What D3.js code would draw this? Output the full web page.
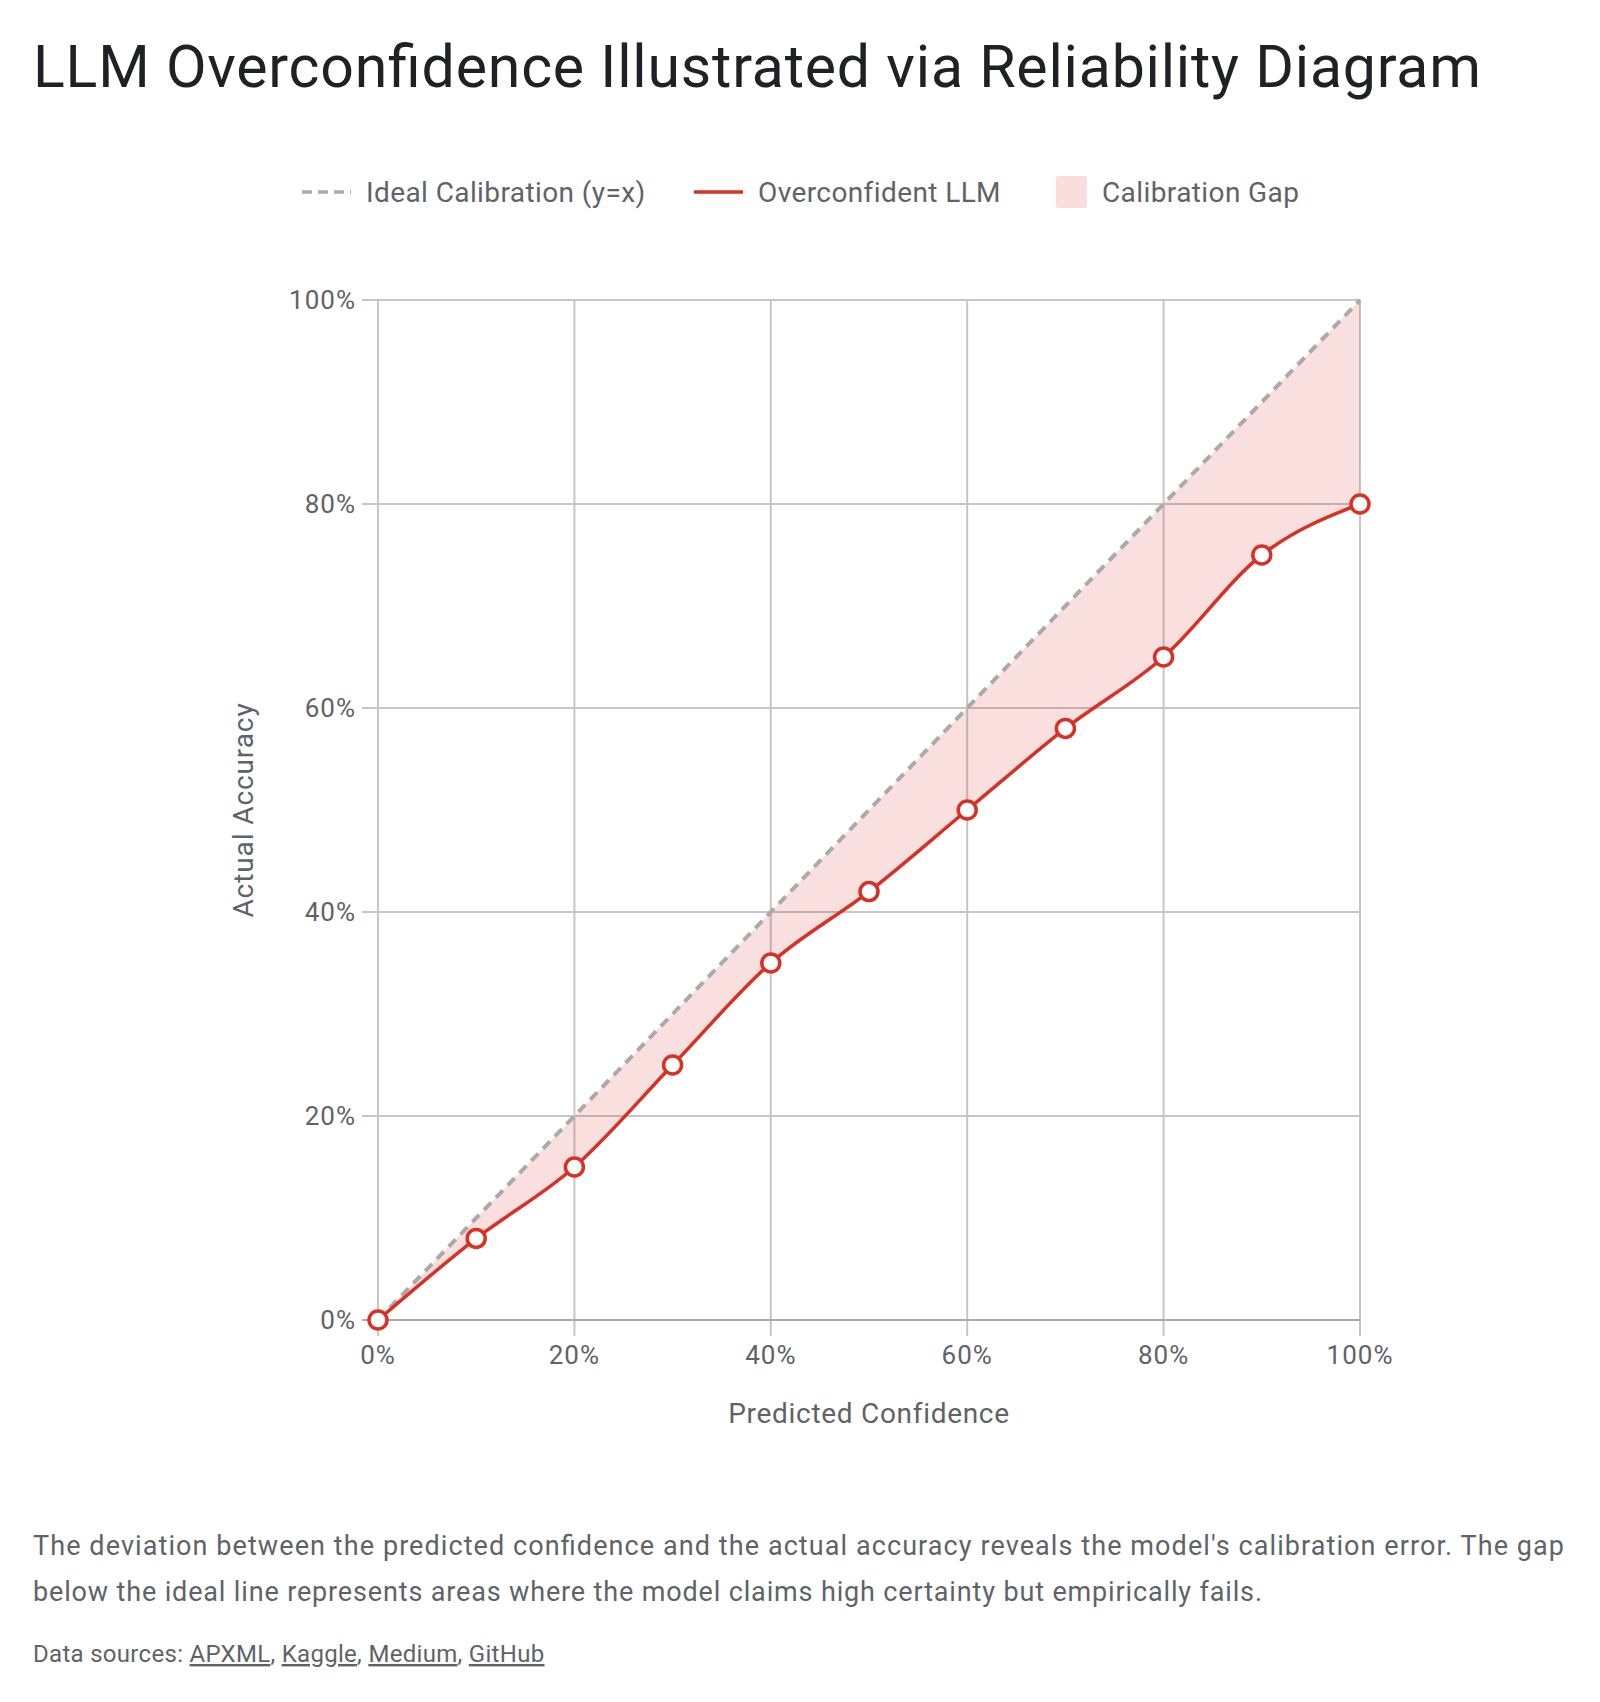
<!DOCTYPE html>
<html>
<head>
<meta charset="utf-8">
<script src="https://cdn.jsdelivr.net/npm/d3@7"></script>
<style>
  html, body { margin: 0; padding: 0; background: #ffffff; }
  svg { display: block; }
  text { font-family: "Google Sans", Roboto, "Open Sans", sans-serif; }
</style>
</head>
<body>
<svg id="chart" width="1600" height="1702"></svg>
<script>
// ---- Data ----
const confidence = [0, 10, 20, 30, 40, 50, 60, 70, 80, 90, 100];
const idealAccuracy = [0, 10, 20, 30, 40, 50, 60, 70, 80, 90, 100];
const modelAccuracy = [0, 8, 15, 25, 35, 42, 50, 58, 65, 75, 80];
const xTicks = [0, 20, 40, 60, 80, 100];
const yTicks = [0, 20, 40, 60, 80, 100];
const legendLabels = ["Ideal Calibration (y=x)", "Overconfident LLM", "Calibration Gap"];
const titleText = "LLM Overconfidence Illustrated via Reliability Diagram";
const xTitle = "Predicted Confidence";
const yTitle = "Actual Accuracy";
const captionLines = [
  "The deviation between the predicted confidence and the actual accuracy reveals the model's calibration error. The gap",
  "below the ideal line represents areas where the model claims high certainty but empirically fails."
];
const sourcesPrefix = "Data sources: ";
const sources = ["APXML", "Kaggle", "Medium", "GitHub"];

// ---- Layout ----
const svg = d3.select("#chart");
const plot = { left: 378, right: 1360, top: 300, bottom: 1320 };
const RED = "#d93025", GRAY_DASH = "#aaaaaa", TEXT = "#5f6368", GRID = "#c6c6c6";

const x = d3.scaleLinear().domain([0, 100]).range([plot.left, plot.right]);
const y = d3.scaleLinear().domain([0, 100]).range([plot.bottom, plot.top]);

// Title
svg.append("text").attr("x", 33).attr("y", 87)
  .attr("font-size", 59).attr("fill", "#202124")
  .attr("textLength", 1448).attr("lengthAdjust", "spacing").text(titleText);

// Legend
const lg = svg.append("g").attr("font-size", 28).attr("letter-spacing", 0.4).attr("fill", TEXT);
const ly = 192;
lg.append("line").attr("x1", 302).attr("x2", 351).attr("y1", ly).attr("y2", ly)
  .attr("stroke", GRAY_DASH).attr("stroke-width", 3.5).attr("stroke-dasharray", "10,6");
lg.append("text").attr("x", 366).attr("y", ly).attr("dy", "0.35em").text(legendLabels[0]);
lg.append("line").attr("x1", 694).attr("x2", 743).attr("y1", ly).attr("y2", ly)
  .attr("stroke", RED).attr("stroke-width", 3.5);
lg.append("text").attr("x", 758).attr("y", ly).attr("dy", "0.35em").text(legendLabels[1]);
lg.append("rect").attr("x", 1056).attr("y", ly - 16).attr("width", 31).attr("height", 32)
  .attr("rx", 3).attr("fill", "rgba(217,48,37,0.16)");
lg.append("text").attr("x", 1102).attr("y", ly).attr("dy", "0.35em").text(legendLabels[2]);

// Grid
const grid = svg.append("g");
grid.selectAll(".gx").data(xTicks).join("line")
  .attr("x1", d => x(d)).attr("x2", d => x(d))
  .attr("y1", plot.top).attr("y2", plot.bottom + 16)
  .attr("stroke", GRID).attr("stroke-width", 2);
grid.selectAll(".gy").data(yTicks).join("line")
  .attr("x1", plot.left - 16).attr("x2", plot.right)
  .attr("y1", d => y(d)).attr("y2", d => y(d))
  .attr("stroke", d => d === 0 ? "#aaaaaa" : GRID).attr("stroke-width", 2);

// Tick labels
svg.append("g").attr("font-size", 26).attr("letter-spacing", 1).attr("fill", TEXT).attr("text-anchor", "end")
  .selectAll("text").data(yTicks).join("text")
  .attr("x", plot.left - 22).attr("y", d => y(d)).attr("dy", "0.35em")
  .text(d => d + "%");
svg.append("g").attr("font-size", 26).attr("letter-spacing", 1).attr("fill", TEXT).attr("text-anchor", "middle")
  .selectAll("text").data(xTicks).join("text")
  .attr("x", d => x(d)).attr("y", plot.bottom + 35).attr("dy", "0.35em")
  .text(d => d + "%");

// Axis titles
svg.append("text").attr("x", (plot.left + plot.right) / 2).attr("y", 1413).attr("dy", "0.35em")
  .attr("text-anchor", "middle").attr("font-size", 28).attr("letter-spacing", 0.7)
  .attr("fill", TEXT).text(xTitle);
svg.append("text").attr("transform", `translate(243,${(plot.top + plot.bottom) / 2}) rotate(-90)`)
  .attr("dy", "0.35em").attr("text-anchor", "middle").attr("font-size", 28).attr("letter-spacing", 0.9)
  .attr("fill", TEXT).text(yTitle);

// Data
const pts = confidence.map((c, i) => ({ c, ideal: idealAccuracy[i], model: modelAccuracy[i] }));

const area = d3.area().curve(d3.curveMonotoneX)
  .x(d => x(d.c)).y0(d => y(d.model)).y1(d => y(d.ideal));
svg.append("path").datum(pts).attr("d", area).attr("fill", "rgba(217,48,37,0.15)");

const idealLine = d3.line().x(d => x(d.c)).y(d => y(d.ideal));
svg.append("path").datum(pts).attr("d", idealLine).attr("fill", "none")
  .attr("stroke", GRAY_DASH).attr("stroke-width", 4).attr("stroke-dasharray", "10,7");

const modelLine = d3.line().curve(d3.curveMonotoneX).x(d => x(d.c)).y(d => y(d.model));
svg.append("path").datum(pts).attr("d", modelLine).attr("fill", "none")
  .attr("stroke", RED).attr("stroke-width", 3.5);

svg.append("g").selectAll("circle").data(pts).join("circle")
  .attr("cx", d => x(d.c)).attr("cy", d => y(d.model)).attr("r", 9)
  .attr("fill", "#ffffff").attr("stroke", RED).attr("stroke-width", 3.5);

// Caption
const capWidths = [1531, 1229];
const cap = svg.append("g").attr("font-size", 27).attr("fill", TEXT);
captionLines.forEach((t, i) => {
  cap.append("text").attr("x", 33).attr("y", 1555 + i * 46)
    .attr("textLength", capWidths[i]).attr("lengthAdjust", "spacing").text(t);
});
const src = svg.append("text").attr("x", 33).attr("y", 1662).attr("font-size", 24)
  .attr("letter-spacing", 0.3).attr("fill", TEXT);
src.append("tspan").text(sourcesPrefix);
sources.forEach((s, i) => {
  src.append("tspan").attr("text-decoration", "underline").text(s);
  if (i < sources.length - 1) src.append("tspan").text(", ");
});
</script>
</body>
</html>
